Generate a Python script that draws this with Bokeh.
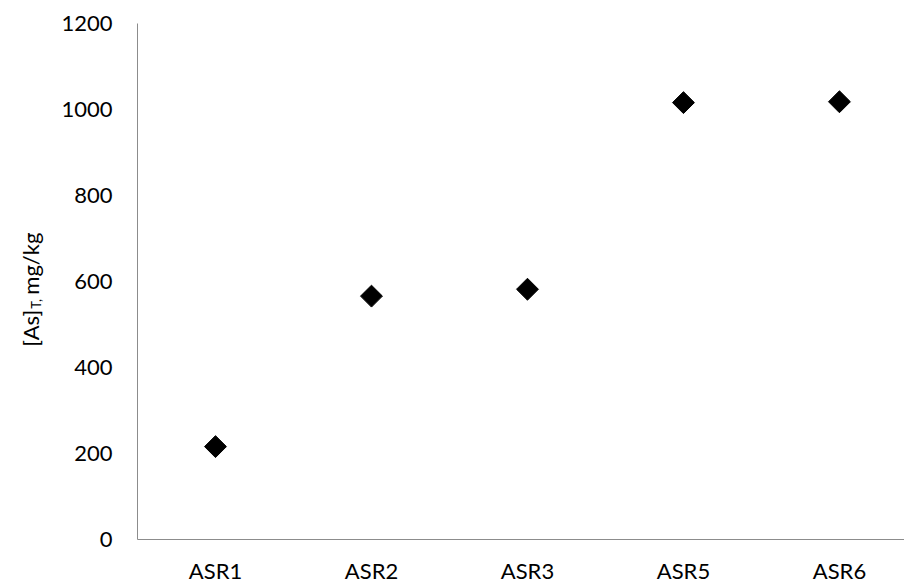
import math
from bokeh.plotting import figure
from bokeh.models import Range1d, Label, FixedTicker
from bokeh.layouts import row
from bokeh.embed import file_html
from bokeh.resources import INLINE

categories = ["ASR1", "ASR2", "ASR3", "ASR5", "ASR6"]
as_total = [216, 566, 582, 1016, 1018]
y_ticks = [0, 200, 400, 600, 800, 1000, 1200]

FONT = "Lato"
AXIS_COLOR = "#8c8c8c"
W = 904
H = 586
TITLE_W = 44

xs = list(range(1, len(categories) + 1))

# main chart
p = figure(width=W - TITLE_W, height=H, output_backend="svg", toolbar_location=None,
           x_range=Range1d(0.5, 5.417), y_range=Range1d(0, 1200),
           min_border_left=137 - TITLE_W, min_border_right=0, min_border_top=23,
           min_border_bottom=0)
p.outline_line_color = None
p.grid.grid_line_color = None
p.background_fill_color = "white"
p.border_fill_color = "white"

p.scatter(xs, as_total, marker="square", size=15.5, angle=math.pi / 4,
          fill_color="black", line_color="black")

xa = p.xaxis[0]
xa.ticker = FixedTicker(ticks=xs)
xa.major_label_overrides = {x: c for x, c in zip(xs, categories)}
ya = p.yaxis[0]
ya.ticker = FixedTicker(ticks=y_ticks)

for ax in (xa, ya):
    ax.axis_line_color = AXIS_COLOR
    ax.axis_line_width = 1
    ax.major_tick_line_color = None
    ax.minor_tick_line_color = None
    ax.major_tick_out = 0
    ax.major_tick_in = 0
    ax.minor_tick_out = 0
    ax.major_label_text_font = FONT
    ax.major_label_text_font_size = "22px"
    ax.major_label_text_color = "black"
xa.major_label_standoff = 17
ya.major_label_standoff = 25

# y-axis title panel (pixel space) with subscript, as rotated text
t = figure(width=TITLE_W, height=H, output_backend="svg", toolbar_location=None,
           x_range=Range1d(0, TITLE_W), y_range=Range1d(H, 0),
           x_axis_location=None, y_axis_location=None,
           min_border_left=0, min_border_right=0, min_border_top=0, min_border_bottom=0)
t.outline_line_color = None
t.grid.grid_line_color = None
t.border_fill_color = "white"

title_parts = [("[As]", 22, 0, 367), ("T,", 13, 5, 324), ("mg/kg", 22, 0, 308)]
for txt, fs, shift, ypos in title_parts:
    t.add_layout(Label(x=30 + shift, y=ypos, text=txt, angle=math.pi / 2,
                       text_align="left", text_baseline="alphabetic",
                       text_font=FONT, text_font_size=f"{fs}px", text_color="black"))

layout = row(t, p)
open("out.html", "w").write(file_html(layout, INLINE))
